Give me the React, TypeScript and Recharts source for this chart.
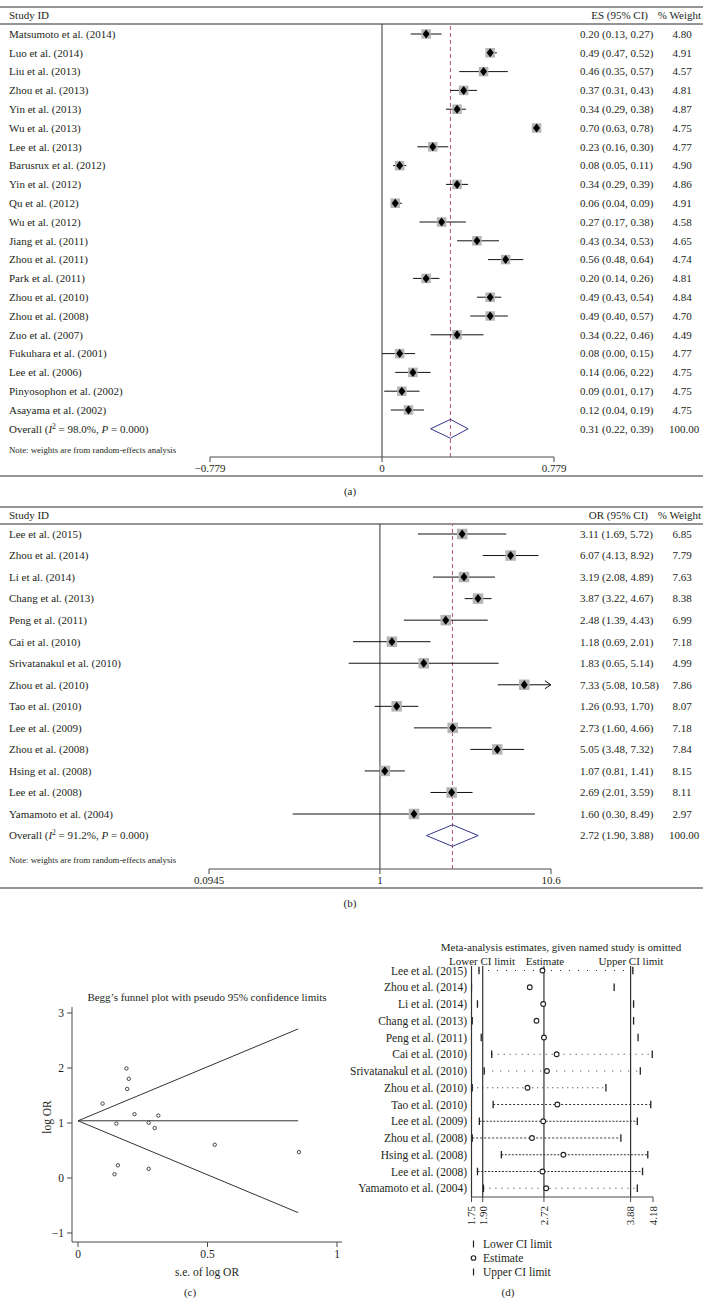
import React from 'react';
import { ScatterChart, Scatter, XAxis, YAxis, ReferenceLine } from 'recharts';

const FONT = '"Liberation Serif", "Times New Roman", serif';
const INK = '#231f20';
const RULE = '#707070';
const AXIS = '#4a4a4a';
const BOX = '#b5b5b5';
const DIAMOND_EDGE = '#35358f';
const REF_DASH = '#b9566e';

// ---------- Panel (a) ----------
const studiesA = [
  'Matsumoto et al. (2014)', 'Luo et al. (2014)', 'Liu et al. (2013)', 'Zhou et al. (2013)',
  'Yin et al. (2013)', 'Wu et al. (2013)', 'Lee et al. (2013)', 'Barusrux et al. (2012)',
  'Yin et al. (2012)', 'Qu et al. (2012)', 'Wu et al. (2012)', 'Jiang et al. (2011)',
  'Zhou et al. (2011)', 'Park et al. (2011)', 'Zhou et al. (2010)', 'Zhou et al. (2008)',
  'Zuo et al. (2007)', 'Fukuhara et al. (2001)', 'Lee et al. (2006)', 'Pinyosophon et al. (2002)',
  'Asayama et al. (2002)',
];
const esA = [0.20, 0.49, 0.46, 0.37, 0.34, 0.70, 0.23, 0.08, 0.34, 0.06, 0.27, 0.43, 0.56, 0.20, 0.49, 0.49, 0.34, 0.08, 0.14, 0.09, 0.12];
const loA = [0.13, 0.47, 0.35, 0.31, 0.29, 0.63, 0.16, 0.05, 0.29, 0.04, 0.17, 0.34, 0.48, 0.14, 0.43, 0.40, 0.22, 0.00, 0.06, 0.01, 0.04];
const hiA = [0.27, 0.52, 0.57, 0.43, 0.38, 0.78, 0.30, 0.11, 0.39, 0.09, 0.38, 0.53, 0.64, 0.26, 0.54, 0.57, 0.46, 0.15, 0.22, 0.17, 0.19];
const weightA = [4.80, 4.91, 4.57, 4.81, 4.87, 4.75, 4.77, 4.90, 4.86, 4.91, 4.58, 4.65, 4.74, 4.81, 4.84, 4.70, 4.49, 4.77, 4.75, 4.75, 4.75];
const overallA = [0.31, 0.22, 0.39];
const overallStatsA = ['98.0%', '0.000'];
const axisTicksA = [-0.779, 0, 0.779];

// ---------- Panel (b) ----------
const studiesB = [
  'Lee et al. (2015)', 'Zhou et al. (2014)', 'Li et al. (2014)', 'Chang et al. (2013)',
  'Peng et al. (2011)', 'Cai et al. (2010)', 'Srivatanakul et al. (2010)', 'Zhou et al. (2010)',
  'Tao et al. (2010)', 'Lee et al. (2009)', 'Zhou et al. (2008)', 'Hsing et al. (2008)',
  'Lee et al. (2008)', 'Yamamoto et al. (2004)',
];
const orB = [3.11, 6.07, 3.19, 3.87, 2.48, 1.18, 1.83, 7.33, 1.26, 2.73, 5.05, 1.07, 2.69, 1.60];
const loB = [1.69, 4.13, 2.08, 3.22, 1.39, 0.69, 0.65, 5.08, 0.93, 1.60, 3.48, 0.81, 2.01, 0.30];
const hiB = [5.72, 8.92, 4.89, 4.67, 4.43, 2.01, 5.14, 10.58, 1.70, 4.66, 7.32, 1.41, 3.59, 8.49];
const weightB = [6.85, 7.79, 7.63, 8.38, 6.99, 7.18, 4.99, 7.86, 8.07, 7.18, 7.84, 8.15, 8.11, 2.97];
const overallB = [2.72, 1.90, 3.88];
const overallStatsB = ['91.2%', '0.000'];
const axisTicksB = [0.0945, 1, 10.6];

// ---------- Panel (c): Begg's funnel ----------
const funnelSe = [0.310, 0.196, 0.218, 0.095, 0.296, 0.273, 0.528, 0.187, 0.154, 0.273, 0.190, 0.141, 0.148, 0.853];
const funnelLogOr = [1.135, 1.803, 1.160, 1.353, 0.908, 0.166, 0.604, 1.992, 0.231, 1.004, 1.619, 0.068, 0.990, 0.470];
const funnelPooled = 1.04;
const funnelEndSe = 0.85;
const funnelUpperEnd = 2.71;
const funnelLowerEnd = -0.63;
const funnelXTicks = [0, 0.5, 1];
const funnelYTicks = [-1, 0, 1, 2, 3];

// ---------- Panel (d): sensitivity ----------
const sensLower = [1.85, 1.75, 1.83, 1.76, 1.88, 2.02, 1.92, 1.76, 2.04, 1.855, 1.76, 2.15, 1.83, 1.91];
const sensEst = [2.70, 2.53, 2.71, 2.62, 2.72, 2.89, 2.76, 2.50, 2.90, 2.71, 2.56, 2.98, 2.70, 2.75];
const sensUpper = [3.91, 3.66, 3.92, 3.92, 3.98, 4.17, 4.01, 3.55, 4.15, 3.97, 3.75, 4.11, 4.04, 3.97];
const sensTicks = [1.75, 1.90, 2.72, 3.88, 4.18];
const sensOverall = [1.90, 2.72, 3.88];

const fmt2 = (v: number) => v.toFixed(2);

type ForestProps = {
  top: number; height: number; headerRule: number; axisY: number; firstRowY: number; rowStep: number;
  plotLeft: number; plotRight: number;
  labels: string[]; es: number[]; lo: number[]; hi: number[]; weight: number[];
  overall: number[]; stats: string[]; nullValue: number; log?: boolean;
  ticks: number[]; tickText: (v: number) => string; boxSize: number;
};

function Forest(p: ForestProps) {
  const n = p.labels.length;
  const rows = Array.from({ length: n + 1 }, (_, i) => i);
  const pts = p.es.map((v, i) => ({ x: v, y: i }));
  const [oEs, oLo, oHi] = p.overall;
  const diamond = [
    { x: oLo, y: n }, { x: oEs, y: n - 0.5 }, { x: oHi, y: n }, { x: oEs, y: n + 0.5 }, { x: oLo, y: n },
  ];
  const xh = 20;
  const yDomain = [(p.headerRule - p.firstRowY) / p.rowStep, (p.axisY - p.firstRowY) / p.rowStep];
  const xDomain = [p.ticks[0], p.ticks[p.ticks.length - 1]];
  const s = p.boxSize;

  const rowTick = (tp: any) => {
    const i = tp.payload.value;
    const y = tp.y;
    if (i === n) {
      return (
        <g fontFamily={FONT} fontSize={11} fill={INK}>
          <text x={9} y={y} dy="0.35em">
            <tspan>{'Overall ('}</tspan>
            <tspan fontStyle="italic">I</tspan>
            <tspan dy={-4} fontSize={7.5}>2</tspan>
            <tspan dy={4}>{` = ${p.stats[0]}, `}</tspan>
            <tspan fontStyle="italic">P</tspan>
            <tspan>{` = ${p.stats[1]})`}</tspan>
          </text>
          <text x={580} y={y} dy="0.35em">{`${fmt2(oEs)} (${fmt2(oLo)}, ${fmt2(oHi)})`}</text>
          <text x={684} y={y} dy="0.35em" textAnchor="middle">100.00</text>
        </g>
      );
    }
    return (
      <g fontFamily={FONT} fontSize={11} fill={INK}>
        <text x={9} y={y} dy="0.35em">{p.labels[i]}</text>
        <text x={580} y={y} dy="0.35em">{`${fmt2(p.es[i])} (${fmt2(p.lo[i])}, ${fmt2(p.hi[i])})`}</text>
        <text x={682} y={y} dy="0.35em" textAnchor="middle">{fmt2(p.weight[i])}</text>
      </g>
    );
  };

  const boxShape = (sp: any) => (
    <rect x={sp.cx - s / 2} y={sp.cy - s / 2} width={s} height={s} fill={BOX} />
  );
  const markerShape = (sp: any) => (
    <path d={`M${sp.cx - 3.5},${sp.cy} L${sp.cx},${sp.cy - 4.5} L${sp.cx + 3.5},${sp.cy} L${sp.cx},${sp.cy + 4.5} Z`} fill="#000" />
  );

  return (
    <div style={{ position: 'absolute', left: 0, top: p.top }}>
      <ScatterChart
        width={703}
        height={p.height}
        margin={{ top: p.headerRule - p.top, right: 703 - p.plotRight, bottom: p.top + p.height - p.axisY - xh, left: 0 }}
      >
        <XAxis
          type="number" dataKey="x" domain={xDomain} ticks={p.ticks} scale={p.log ? 'log' : 'linear'}
          allowDataOverflow interval={0} height={xh} tickSize={5} tickMargin={2} stroke={AXIS}
          tick={{ fill: INK, fontFamily: FONT, fontSize: 11 }} tickFormatter={p.tickText}
        />
        <YAxis
          type="number" dataKey="y" domain={yDomain} reversed ticks={rows} interval={0} allowDataOverflow
          width={p.plotLeft} axisLine={false} tickLine={false} tick={rowTick}
        />
        <ReferenceLine x={p.nullValue} stroke="#333" strokeWidth={1} />
        <ReferenceLine x={oEs} stroke={REF_DASH} strokeWidth={1} strokeDasharray="4 3" />
        <Scatter data={pts} shape={boxShape} isAnimationActive={false} />
        {p.lo.map((lo, i) => {
          const arrow = p.hi[i] >= xDomain[1] * 0.99;
          return (
            <ReferenceLine
              key={`ci${i}`}
              segment={[{ x: lo, y: i }, { x: p.hi[i], y: i }]}
              stroke="#111"
              strokeWidth={1}
              shape={(lp: any) => (
                <g>
                  <line x1={lp.x1} y1={lp.y1} x2={lp.x2} y2={lp.y2} stroke="#111" strokeWidth={1} />
                  {arrow ? (
                    <path d={`M${lp.x2 - 6},${lp.y2 - 4} L${lp.x2},${lp.y2} L${lp.x2 - 6},${lp.y2 + 4}`} fill="none" stroke="#111" strokeWidth={1} />
                  ) : null}
                </g>
              )}
            />
          );
        })}
        <Scatter
          data={diamond} fill={DIAMOND_EDGE} line={{ stroke: DIAMOND_EDGE, strokeWidth: 1 }}
          shape={() => <g />} isAnimationActive={false}
        />
        <Scatter data={pts} shape={markerShape} isAnimationActive={false} />
      </ScatterChart>
    </div>
  );
}

function Funnel() {
  const pts = funnelSe.map((v, i) => ({ x: v, y: funnelLogOr[i] }));
  const ring = (sp: any) => <circle cx={sp.cx} cy={sp.cy} r={1.7} fill="#fff" stroke="#333" strokeWidth={0.9} />;
  const minus = (v: number) => (v < 0 ? `\u2212${Math.abs(v)}` : `${v}`);
  return (
    <div style={{ position: 'absolute', left: 0, top: 980 }}>
      <ScatterChart width={420} height={320} margin={{ top: 27, right: 78, bottom: 18, left: 0 }}>
        <XAxis
          type="number" dataKey="x" domain={[-0.0232, 1.0193]} ticks={funnelXTicks} allowDataOverflow interval={0}
          height={40} tickSize={5} tickMargin={3} stroke={AXIS} tick={{ fill: INK, fontFamily: FONT, fontSize: 11.5 }}
        />
        <YAxis
          type="number" dataKey="y" domain={[-1.164, 3.109]} ticks={funnelYTicks} allowDataOverflow interval={0}
          width={72} tickSize={5} tickMargin={3} stroke={AXIS} tickFormatter={minus}
          tick={{ fill: INK, fontFamily: FONT, fontSize: 11.5 }}
        />
        <ReferenceLine segment={[{ x: 0, y: funnelPooled }, { x: funnelEndSe, y: funnelPooled }]} stroke="#333" strokeWidth={1} />
        <ReferenceLine segment={[{ x: 0, y: funnelPooled }, { x: funnelEndSe, y: funnelUpperEnd }]} stroke="#333" strokeWidth={1} />
        <ReferenceLine segment={[{ x: 0, y: funnelPooled }, { x: funnelEndSe, y: funnelLowerEnd }]} stroke="#333" strokeWidth={1} />
        <Scatter data={pts} shape={ring} isAnimationActive={false} />
      </ScatterChart>
    </div>
  );
}

function Sensitivity() {
  const n = studiesB.length;
  const rows = Array.from({ length: n }, (_, i) => i);
  const lowPts = sensLower.map((v, i) => ({ x: v, y: i }));
  const upPts = sensUpper.map((v, i) => ({ x: v, y: i }));
  const estPts = sensEst.map((v, i) => ({ x: v, y: i }));
  const dash = ['1 8', null, null, null, null, '1 5', '1 7', '1 4', '2 2', '2 1.5', '2 2', '2 1.5', '2 1.5', '1 5'];
  const firstY = 970.5;
  const step = 16.75;
  const top = 930;
  const bar = (sp: any) => <line x1={sp.cx} x2={sp.cx} y1={sp.cy - 3.8} y2={sp.cy + 3.8} stroke="#222" strokeWidth={1.3} />;
  const ring = (sp: any) => <circle cx={sp.cx} cy={sp.cy} r={2.4} fill="#fff" stroke="#222" strokeWidth={1.1} />;
  const labelTick = (tp: any) => (
    <text x={127} y={tp.y} dy="0.35em" textAnchor="end" fontFamily={FONT} fontSize={11.5} fill={INK}>
      {studiesB[tp.payload.value]}
    </text>
  );
  const rotTick = (tp: any) => (
    <text
      x={tp.x} y={tp.y + 2} dy="0.35em" textAnchor="end" transform={`rotate(-90 ${tp.x} ${tp.y + 2})`}
      fontFamily={FONT} fontSize={11} fill={INK}
    >
      {Number(tp.payload.value).toFixed(2)}
    </text>
  );
  return (
    <div style={{ position: 'absolute', left: 340, top }}>
      <ScatterChart width={363} height={300} margin={{ top: 966 - top, right: 50, bottom: 3, left: 0 }}>
        <XAxis
          type="number" dataKey="x" domain={[1.75, 4.18]} ticks={sensTicks} allowDataOverflow interval={0}
          height={30} tickSize={5} tickMargin={2} stroke={AXIS} tick={rotTick}
        />
        <YAxis
          type="number" dataKey="y" domain={[(966 - firstY) / step, (1197 - firstY) / step]} reversed
          ticks={rows} interval={0} allowDataOverflow width={131.5} axisLine={false} tickLine={false} tick={labelTick}
        />
        {[sensTicks[0], ...sensOverall].map((v) => (
          <ReferenceLine key={`v${v}`} x={v} stroke="#333" strokeWidth={1.2} />
        ))}
        {rows.map((i) =>
          dash[i] ? (
            <ReferenceLine
              key={`d${i}`} segment={[{ x: sensLower[i], y: i }, { x: sensUpper[i], y: i }]}
              stroke="#333" strokeWidth={1} strokeDasharray={dash[i] as string}
            />
          ) : null
        )}
        <Scatter data={lowPts} shape={bar} isAnimationActive={false} />
        <Scatter data={upPts} shape={bar} isAnimationActive={false} />
        <Scatter data={estPts} shape={ring} isAnimationActive={false} />
      </ScatterChart>
    </div>
  );
}

function Overlay() {
  const t = { fontFamily: FONT, fill: INK } as const;
  const rules = [7, 24, 476, 507, 524, 888];
  return (
    <svg width={703} height={1314} style={{ position: 'absolute', left: 0, top: 0 }}>
      {rules.map((y) => (
        <line key={y} x1={0} x2={703} y1={y} y2={y} stroke={RULE} strokeWidth={1.3} />
      ))}
      <g {...t} fontSize={11}>
        <text x={9} y={15.5} dy="0.35em">Study ID</text>
        <text x={648} y={15.5} dy="0.35em" textAnchor="end">ES (95% CI)</text>
        <text x={701} y={15.5} dy="0.35em" textAnchor="end">% Weight</text>
        <text x={350} y={491} dy="0.35em" textAnchor="middle">(a)</text>
        <text x={9} y={515.5} dy="0.35em">Study ID</text>
        <text x={648} y={515.5} dy="0.35em" textAnchor="end">OR (95% CI)</text>
        <text x={701} y={515.5} dy="0.35em" textAnchor="end">% Weight</text>
        <text x={350} y={903} dy="0.35em" textAnchor="middle">(b)</text>
        <text x={207} y={997} dy="0.35em" textAnchor="middle">Begg’s funnel plot with pseudo 95% confidence limits</text>
        <text x={47} y={1117} dy="0.35em" textAnchor="middle" transform="rotate(-90 47 1117)" fontSize={11.5}>log OR</text>
        <text x={207} y={1272} dy="0.35em" textAnchor="middle" fontSize={11.5}>s.e. of log OR</text>
        <text x={190} y={1292} dy="0.35em" textAnchor="middle">(c)</text>
        <text x={561} y={947} dy="0.35em" textAnchor="middle">Meta-analysis estimates, given named study is omitted</text>
        <text x={482} y={961} dy="0.35em" textAnchor="middle">Lower CI limit</text>
        <text x={545} y={961} dy="0.35em" textAnchor="middle">Estimate</text>
        <text x={631} y={961} dy="0.35em" textAnchor="middle">Upper CI limit</text>
        <text x={483} y={1244} dy="0.35em" fontSize={11.5}>Lower CI limit</text>
        <text x={483} y={1258} dy="0.35em" fontSize={11.5}>Estimate</text>
        <text x={483} y={1272} dy="0.35em" fontSize={11.5}>Upper CI limit</text>
        <text x={508} y={1292} dy="0.35em" textAnchor="middle">(d)</text>
      </g>
      <g {...t} fontSize={8.8}>
        <text x={9} y={450} dy="0.35em">Note: weights are from random-effects analysis</text>
        <text x={9} y={860} dy="0.35em">Note: weights are from random-effects analysis</text>
      </g>
      <line x1={473.5} x2={473.5} y1={1240.5} y2={1247.5} stroke="#222" strokeWidth={1.2} />
      <circle cx={473.5} cy={1258} r={2.3} fill="#fff" stroke="#222" strokeWidth={1.1} />
      <line x1={473.5} x2={473.5} y1={1268.5} y2={1275.5} stroke="#222" strokeWidth={1.2} />
    </svg>
  );
}

export default function App() {
  const dec = (v: number) => (v < 0 ? `\u2212${Math.abs(v)}` : `${v}`);
  return (
    <div style={{ position: 'absolute', left: 0, top: 0, width: 703, height: 1314, background: '#fff', overflow: 'hidden' }}>
      <Overlay />
      <Forest
        top={0} height={480} headerRule={24} axisY={457} firstRowY={34} rowStep={18.8}
        plotLeft={210} plotRight={554}
        labels={studiesA} es={esA} lo={loA} hi={hiA} weight={weightA}
        overall={overallA} stats={overallStatsA} nullValue={0}
        ticks={axisTicksA} tickText={dec} boxSize={9.5}
      />
      <Forest
        top={500} height={390} headerRule={524} axisY={869} firstRowY={534} rowStep={21.54}
        plotLeft={209} plotRight={551}
        labels={studiesB} es={orB} lo={loB} hi={hiB} weight={weightB}
        overall={overallB} stats={overallStatsB} nullValue={1} log
        ticks={axisTicksB} tickText={(v) => `${v}`} boxSize={10.5}
      />
      <Funnel />
      <Sensitivity />
    </div>
  );
}
